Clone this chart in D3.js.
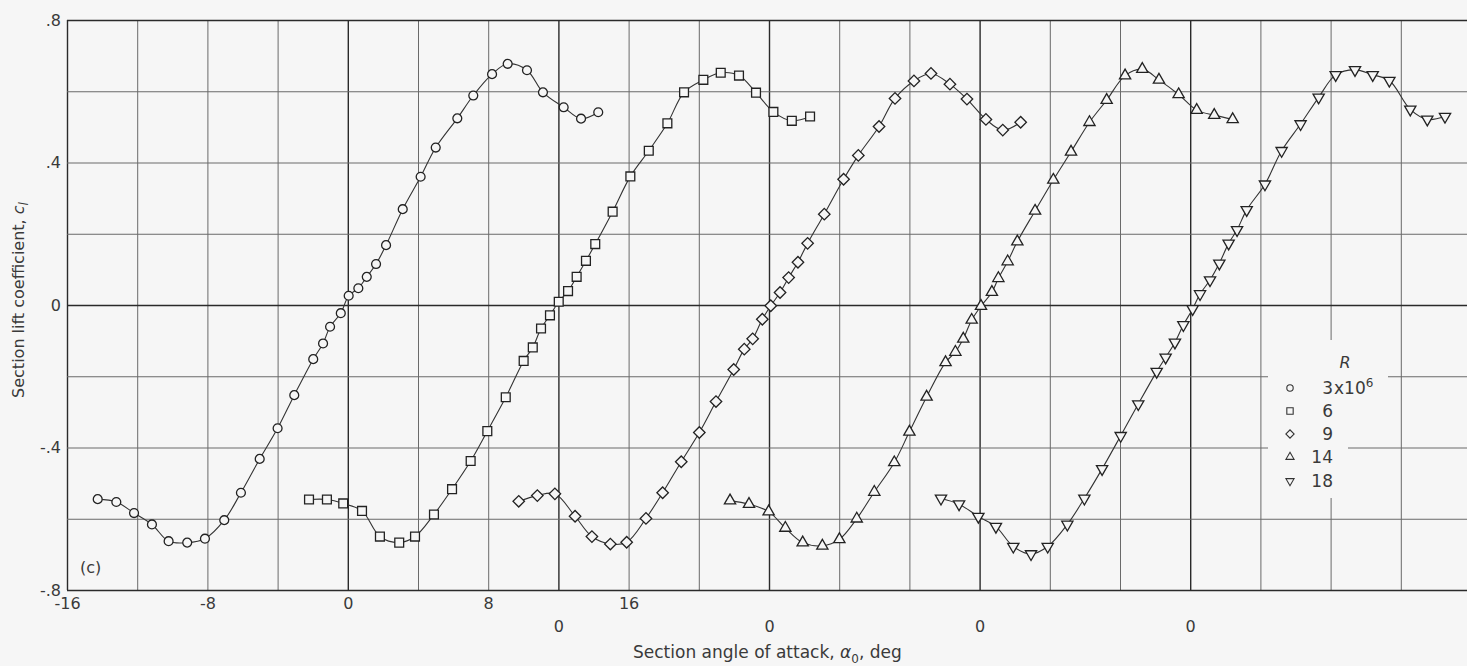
<!DOCTYPE html>
<html>
<head>
<meta charset="utf-8">
<script src="https://cdn.jsdelivr.net/npm/d3@7"></script>
<style>
  html, body { margin: 0; padding: 0; background: #f6f6f6; }
  svg { display: block; }
  text { font-family: "DejaVu Sans", sans-serif; fill: #3a3a3a; }
</style>
</head>
<body>
<svg id="chart" width="1467" height="666"></svg>
<script>
// ---------- DATA ----------
// Reynolds number series (x10^6) and their angle offsets on the common axis (deg)
const reynolds = ["3", "6", "9", "14", "18"];
const offsets = [0, 12, 24, 36, 48];

// R = 3 x 10^6 (circles)
const alpha3 = [-14.25,-13.19,-12.18,-11.16,-10.21,-9.15,-8.14,-7.04,-6.09,-5.02,-4.0,-3.05,-1.97,-1.41,-1.01,-0.40,0.05,0.60,1.08,1.61,2.18,3.13,4.15,5.01,6.24,7.15,8.22,9.11,10.21,11.12,12.30,13.29,14.27];
const cl3 = [-0.545,-0.553,-0.584,-0.616,-0.663,-0.667,-0.656,-0.604,-0.527,-0.432,-0.346,-0.253,-0.152,-0.108,-0.061,-0.023,0.026,0.047,0.079,0.115,0.168,0.269,0.360,0.442,0.524,0.588,0.648,0.677,0.659,0.597,0.555,0.523,0.541];

// R = 6 x 10^6 (squares)
const alpha6 = [-14.21,-13.19,-12.26,-11.19,-10.17,-9.07,-8.17,-7.09,-6.06,-5.0,-4.05,-3.0,-1.98,-1.46,-0.99,-0.48,0.02,0.55,1.04,1.57,2.10,3.09,4.10,5.15,6.21,7.16,8.26,9.25,10.29,11.26,12.25,13.30,14.34];
const cl6 = [-0.546,-0.546,-0.557,-0.578,-0.650,-0.667,-0.650,-0.588,-0.517,-0.438,-0.354,-0.259,-0.157,-0.119,-0.066,-0.029,0.009,0.039,0.079,0.124,0.171,0.262,0.361,0.433,0.510,0.597,0.632,0.652,0.644,0.596,0.542,0.517,0.529];

// R = 9 x 10^6 (diamonds)
const alpha9 = [-14.26,-13.20,-12.20,-11.05,-10.09,-9.04,-8.11,-7.01,-6.06,-5.0,-3.97,-3.02,-2.01,-1.41,-0.93,-0.38,0.10,0.63,1.12,1.65,2.20,3.15,4.25,5.09,6.27,7.18,8.26,9.23,10.31,11.28,12.36,13.32,14.34];
const cl9 = [-0.551,-0.535,-0.530,-0.593,-0.650,-0.671,-0.666,-0.599,-0.527,-0.440,-0.358,-0.271,-0.181,-0.124,-0.095,-0.040,-0.002,0.035,0.077,0.120,0.173,0.255,0.353,0.420,0.501,0.580,0.629,0.650,0.620,0.578,0.521,0.491,0.513];

// R = 14 x 10^6 (triangles)
const alpha14 = [-14.22,-13.14,-12.02,-11.07,-10.08,-8.96,-7.99,-7.0,-6.0,-4.86,-4.0,-3.02,-1.94,-1.38,-0.93,-0.45,0.08,0.70,1.07,1.60,2.15,3.16,4.20,5.21,6.26,7.24,8.29,9.27,10.22,11.34,12.37,13.37,14.42];
const cl14 = [-0.549,-0.559,-0.580,-0.626,-0.667,-0.676,-0.658,-0.600,-0.525,-0.442,-0.356,-0.258,-0.161,-0.132,-0.095,-0.042,-0.003,0.036,0.075,0.122,0.178,0.264,0.351,0.430,0.513,0.575,0.644,0.662,0.632,0.591,0.547,0.533,0.521];

// R = 18 x 10^6 (inverted triangles)
const alpha18 = [-14.20,-13.17,-12.07,-11.07,-10.08,-9.07,-8.12,-7.0,-6.03,-5.02,-3.96,-2.96,-1.91,-1.40,-0.87,-0.39,0.14,0.56,1.13,1.66,2.19,2.67,3.22,4.26,5.21,6.29,7.32,8.29,9.39,10.40,11.35,12.54,13.51,14.52];
const cl18 = [-0.543,-0.559,-0.594,-0.622,-0.678,-0.699,-0.678,-0.616,-0.543,-0.460,-0.367,-0.278,-0.187,-0.147,-0.105,-0.056,-0.011,0.031,0.070,0.117,0.173,0.211,0.267,0.339,0.433,0.508,0.583,0.646,0.660,0.646,0.630,0.549,0.521,0.529];

// Tick labels
const xTickLabels = [-16, -8, 0, 8, 16];
const xZeroLabels = [12, 24, 36, 48];
const yTickValues = [0.8, 0.4, 0, -0.4, -0.8];
const yTickLabels = [".8", ".4", "0", "-.4", "-.8"];

// ---------- LAYOUT ----------
const W = 1467, H = 666;
const mLeft = 67, mTop = 20, mBottom = 590;
const pxPerDeg = 17.55;
const svg = d3.select("#chart");
const bg = "#f6f6f6";

const x = d3.scaleLinear().domain([-16, 64]).range([mLeft, mLeft + 80 * pxPerDeg]);
const y = d3.scaleLinear().domain([-0.8, 0.8]).range([mBottom, mTop]);

const gridX = d3.range(-16, 64, 4);
const gridY = d3.range(-0.8, 0.801, 0.2).map(v => +v.toFixed(2));
const majorX = [-16, 0, 12, 24, 36, 48];

// Vertical grid
svg.append("g")
  .attr("transform", `translate(0,${mBottom})`)
  .call(d3.axisBottom(x).tickValues(gridX).tickSize(-(mBottom - mTop)).tickFormat(""))
  .call(g => g.select(".domain").remove())
  .call(g => g.selectAll(".tick line")
    .attr("stroke", d => majorX.includes(d) ? "#2a2a2a" : "#6a6a6a")
    .attr("stroke-width", d => majorX.includes(d) ? 1.4 : 1));

// Horizontal grid
svg.append("g")
  .attr("transform", `translate(${mLeft},0)`)
  .call(d3.axisLeft(y).tickValues(gridY).tickSize(-(W - mLeft)).tickFormat(""))
  .call(g => g.select(".domain").remove())
  .call(g => g.selectAll(".tick line")
    .attr("stroke", d => (d === 0 || d === 0.8 || d === -0.8) ? "#2a2a2a" : "#6a6a6a")
    .attr("stroke-width", d => (d === 0 || d === 0.8 || d === -0.8) ? 1.4 : 1));

// Y tick labels
svg.append("g")
  .attr("transform", `translate(${mLeft},0)`)
  .call(d3.axisLeft(y).tickValues(yTickValues).tickSize(0).tickPadding(6)
    .tickFormat((d, i) => yTickLabels[i]))
  .call(g => g.select(".domain").remove())
  .call(g => g.selectAll("text").style("font-size", "16px").attr("fill", "#3a3a3a")
    .style("font-family", "DejaVu Sans, sans-serif"));

// X tick labels (first row)
svg.append("g")
  .attr("transform", `translate(0,${mBottom})`)
  .call(d3.axisBottom(x).tickValues(xTickLabels).tickSize(0).tickPadding(8)
    .tickFormat(d => String(d)))
  .call(g => g.select(".domain").remove())
  .call(g => g.selectAll("text").style("font-size", "16px").attr("fill", "#3a3a3a")
    .style("font-family", "DejaVu Sans, sans-serif"));

// X tick labels (second row: zero of each shifted series)
svg.append("g")
  .attr("transform", `translate(0,${mBottom})`)
  .call(d3.axisBottom(x).tickValues(xZeroLabels).tickSize(0).tickPadding(31).tickFormat(() => "0"))
  .call(g => g.select(".domain").remove())
  .call(g => g.selectAll("text").style("font-size", "16px").attr("fill", "#3a3a3a")
    .style("font-family", "DejaVu Sans, sans-serif"));

// Axis titles
const xt = svg.append("text")
  .attr("x", 633).attr("y", 658)
  .style("font-size", "17px");
xt.append("tspan").text("Section angle of attack, ");
xt.append("tspan").style("font-style", "italic").text("\u03B1");
xt.append("tspan").attr("dy", 5).style("font-size", "12px").text("0");
xt.append("tspan").attr("dy", -5).text(", deg");

const yt = svg.append("text")
  .attr("transform", `translate(24,300) rotate(-90)`)
  .attr("text-anchor", "middle")
  .style("font-size", "16px");
yt.append("tspan").text("Section lift coefficient, ");
yt.append("tspan").style("font-style", "italic").text("c");
yt.append("tspan").attr("dy", 4).style("font-size", "12px").style("font-style", "italic").text("l");

svg.append("text").attr("x", 80).attr("y", 573).style("font-size", "16px").text("(c)");

// ---------- SERIES ----------
const series = [
  { a: alpha3, c: cl3, sym: "circle" },
  { a: alpha6, c: cl6, sym: "square" },
  { a: alpha9, c: cl9, sym: "diamond" },
  { a: alpha14, c: cl14, sym: "up" },
  { a: alpha18, c: cl18, sym: "down" }
];

function symbolPath(sym, scale) {
  const s = scale || 1;
  switch (sym) {
    case "circle": return { d: d3.symbol(d3.symbolCircle, 62 * s * s)(), rot: 0 };
    case "square": return { d: d3.symbol(d3.symbolSquare, 78 * s * s)(), rot: 0 };
    case "diamond": return { d: d3.symbol(d3.symbolSquare, 66 * s * s)(), rot: 45 };
    case "up": return { d: d3.symbol(d3.symbolTriangle, 55 * s * s)(), rot: 0 };
    case "down": return { d: d3.symbol(d3.symbolTriangle, 55 * s * s)(), rot: 180 };
  }
}

const line = d3.line()
  .x(d => x(d[0]))
  .y(d => y(d[1]))
  .curve(d3.curveCatmullRom.alpha(0.5));

series.forEach((s, k) => {
  const pts = s.a.map((a, i) => [a + offsets[k], s.c[i]]);
  svg.append("path")
    .datum(pts)
    .attr("d", line)
    .attr("fill", "none")
    .attr("stroke", "#333")
    .attr("stroke-width", 1.1);
  const sp = symbolPath(s.sym);
  svg.append("g").selectAll("path")
    .data(pts)
    .join("path")
    .attr("d", sp.d)
    .attr("transform", d => `translate(${x(d[0])},${y(d[1])}) rotate(${sp.rot})`)
    .attr("fill", bg)
    .attr("stroke", "#222")
    .attr("stroke-width", 1.3);
});

// ---------- LEGEND ----------
const lg = svg.append("g");
lg.append("rect").attr("x", 1268).attr("y", 340).attr("width", 80).attr("height", 158).attr("fill", bg);
lg.append("rect").attr("x", 1268).attr("y", 370).attr("width", 120).attr("height", 26).attr("fill", bg);
lg.append("text").attr("x", 1345).attr("y", 368).attr("text-anchor", "middle")
  .style("font-size", "16px").style("font-style", "italic").text("R");
const legendY = [388, 411, 434, 457, 481];
series.forEach((s, k) => {
  const sp = symbolPath(s.sym, 0.72);
  lg.append("path").attr("d", sp.d)
    .attr("transform", `translate(1290,${legendY[k]}) rotate(${sp.rot})`)
    .attr("fill", bg).attr("stroke", "#333").attr("stroke-width", 1.1);
  lg.append("text").attr("x", 1333).attr("y", legendY[k] + 6)
    .attr("text-anchor", "end").style("font-size", "17px").text(reynolds[k]);
});
const sup = lg.append("text").attr("x", 1334).attr("y", 394).style("font-size", "17px");
sup.append("tspan").text("x10");
sup.append("tspan").attr("dy", -7).style("font-size", "12px").text("6");
</script>
</body>
</html>
